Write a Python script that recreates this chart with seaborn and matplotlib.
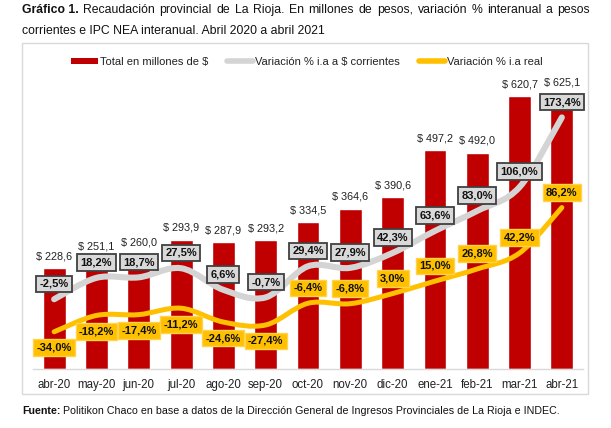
import numpy as np
import pandas as pd
import matplotlib
matplotlib.use("Agg")
import matplotlib.pyplot as plt
import seaborn as sns
from matplotlib.path import Path
from matplotlib.patches import PathPatch, Rectangle
from matplotlib.lines import Line2D

months = ["abr-20", "may-20", "jun-20", "jul-20", "ago-20", "sep-20", "oct-20",
          "nov-20", "dic-20", "ene-21", "feb-21", "mar-21", "abr-21"]
total = [228.6, 251.1, 260.0, 293.9, 287.9, 293.2, 334.5, 364.6, 390.6, 497.2, 492.0, 620.7, 625.1]
var_corr = [-2.5, 18.2, 18.7, 27.5, 6.6, -0.7, 29.4, 27.9, 42.3, 63.6, 83.0, 106.0, 173.4]
var_real = [-34.0, -18.2, -17.4, -11.2, -24.6, -27.4, -6.4, -6.8, 3.0, 15.0, 26.8, 42.2, 86.2]

RED = "#C00000"
GRAY = "#D4D4D4"
YEL = "#FFC000"

sns.set_theme(style="white")
plt.rcParams['font.family'] = ['Liberation Sans', 'DejaVu Sans']

W, H = 611, 428
fig = plt.figure(figsize=(W / 100, H / 100), dpi=100)

def fx(px):
    return px / W

def fy(py):
    return 1 - py / H

# chart box
fig.patches.append(Rectangle((fx(21.5), fy(394)), fx(588) - fx(21.5), fy(43.5) - fy(394),
                             transform=fig.transFigure, fill=False, edgecolor="#D9D9D9", lw=1.0))

ax = fig.add_axes([fx(33), fy(369), fx(583) - fx(33), fy(61) - fy(369)])
df = pd.DataFrame({"mes": months, "total": total})
sns.barplot(data=df, x="mes", y="total", color=RED, width=0.54, saturation=1, ax=ax, zorder=1)
ax.set_ylim(0, 700)
ax.set_xlim(-0.5, len(months) - 0.5)
ax.set_xlabel("")
ax.set_ylabel("")
ax.set_yticks([])
for s in ["top", "right", "left"]:
    ax.spines[s].set_visible(False)
ax.spines["bottom"].set_color("#D9D9D9")
ax.spines["bottom"].set_linewidth(1.0)
ax.tick_params(axis="x", length=0, pad=7, labelsize=8.3, labelcolor="#222222")

for i, v in enumerate(total):
    ax.annotate("\\$ " + f"{v:.1f}".replace(".", ","), (i, v), xytext=(0, 8.5),
                textcoords="offset points", ha="center", va="center",
                fontsize=7.8, color="#222222", zorder=5)

ax2 = ax.twinx()
ax2.set_ylim(-70, 228)
ax2.set_yticks([])
for s in ["top", "right", "left", "bottom"]:
    ax2.spines[s].set_visible(False)


def smooth_path(xs, ys):
    pts = np.column_stack([xs, ys]).astype(float)
    n = len(pts)
    verts = [pts[0]]
    codes = [Path.MOVETO]
    for i in range(n - 1):
        p_prev = pts[i - 1] if i > 0 else pts[i]
        p0 = pts[i]
        p1 = pts[i + 1]
        p_next = pts[i + 2] if i + 2 < n else pts[i + 1]
        c1 = p0 + (p1 - p_prev) / 6.0
        c2 = p1 - (p_next - p0) / 6.0
        verts += [c1, c2, p1]
        codes += [Path.CURVE4] * 3
    return Path(verts, codes)


xs = np.arange(len(months))
ax2.add_patch(PathPatch(smooth_path(xs, var_corr), fill=False, edgecolor=GRAY,
                        lw=4.4, capstyle="round", joinstyle="round", zorder=3))
ax2.add_patch(PathPatch(smooth_path(xs, var_real), fill=False, edgecolor=YEL,
                        lw=3.6, capstyle="round", joinstyle="round", zorder=3))


def pct(v):
    return f"{v:.1f}".replace(".", ",") + "%"


for i, v in enumerate(var_corr):
    ax2.annotate(pct(v), (i, v), xytext=(0, 11), textcoords="offset points",
                 ha="center", va="center", fontsize=8, fontweight="bold", color="#111111",
                 bbox=dict(boxstyle="square,pad=0.3", fc="#D9D9D9", ec="#404040", lw=1.3),
                 zorder=6)

for i, v in enumerate(var_real):
    off = -11.5 if i < 6 else 11
    ax2.annotate(pct(v), (i, v), xytext=(0, off), textcoords="offset points",
                 ha="center", va="center", fontsize=8, fontweight="bold", color="#111111",
                 bbox=dict(boxstyle="square,pad=0.3", fc=YEL, ec="#FFD34D", lw=1.0),
                 zorder=6)

# legend
handles = [Rectangle((0, 0), 1, 1, fc=RED, ec="none"),
           Line2D([0], [0], color=GRAY, lw=4),
           Line2D([0], [0], color=YEL, lw=4)]
labels = ["Total en millones de \\$", "Variación % i.a a \\$ corrientes", "Variación % i.a real"]
leg = fig.legend(handles, labels, loc="center", bbox_to_anchor=(fx(307), fy(62)),
                 ncol=3, frameon=False, fontsize=8, handlelength=2.4, handleheight=0.5,
                 handletextpad=0.15, columnspacing=1.7, labelcolor="#222222")

# title (justified first line)
renderer = fig.canvas.get_renderer()
title_fs = 8.8
line1_words = [("Gráfico 1.", "bold")] + [(w, "normal") for w in
               "Recaudación provincial de La Rioja. En millones de pesos, variación % interanual a pesos".split()]
texts = []
widths = []
for w, wt in line1_words:
    t = fig.text(0, fy(10), w, fontsize=title_fs, fontweight=wt, color="#111111", va="center", ha="left")
    texts.append(t)
    widths.append(t.get_window_extent(renderer).width)
x_left, x_right = 22.0, 590.0
gap = (x_right - x_left - sum(widths)) / (len(widths) - 1)
x = x_left
for t, wd in zip(texts, widths):
    t.set_x(fx(x))
    x += wd + gap

fig.text(fx(22), fy(31), "corrientes e IPC NEA interanual. Abril 2020 a abril 2021",
         fontsize=title_fs, color="#111111", va="center", ha="left")

# footer
tf = fig.text(fx(22), fy(411), "Fuente:", fontsize=7.7, fontweight="bold", color="#111111",
              va="center", ha="left")
wf = tf.get_window_extent(renderer).width
fig.text(fx(22 + wf + 3), fy(411),
         "Politikon Chaco en base a datos de la Dirección General de Ingresos Provinciales de La Rioja e INDEC.",
         fontsize=7.7, color="#111111", va="center", ha="left")

fig.savefig("out.png", dpi=100)
